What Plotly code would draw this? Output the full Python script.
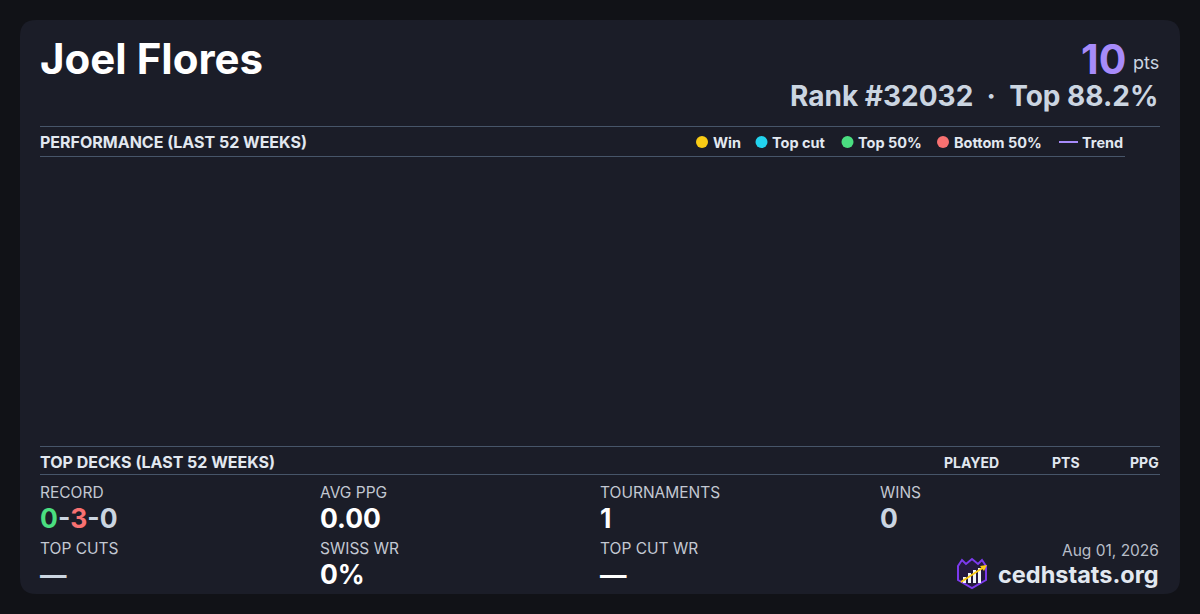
import plotly.graph_objects as go

W, H = 1200, 614

# player header
player_name = "Joel Flores"
points = 10
rank = 32032
top_pct = 88.2

# performance chart (no events in the last 52 weeks)
perf_weeks = []
perf_points = []
perf_result = []
trend_weeks = []
trend_values = []

legend_names = ["Win", "Top cut", "Top 50%", "Bottom 50%"]
legend_colors = ["#facc15", "#22d3ee", "#4ade80", "#f87171"]
trend_color = "#a78bfa"

deck_columns = ["PLAYED", "PTS", "PPG"]

# summary stats
record = [0, 3, 0]
stat_labels = ["RECORD", "AVG PPG", "TOURNAMENTS", "WINS", "TOP CUTS", "SWISS WR", "TOP CUT WR"]
stat_values = ["0-3-0", "0.00", "1", "0", "—", "0%", "—"]
date_str = "Aug 01, 2026"
site = "cedhstats.org"

FONT = "Inter, Roboto, sans-serif"
BG = "#111217"
CARD = "#1b1d28"
RULE = "#475569"


def X(p):
    return p / W


def Y(p):
    return 1 - p / H


def txt(x, y, s, size, color, anchor="left", weight=400, h=None):
    return dict(x=X(x), y=Y(y), xref="paper", yref="paper", text=s, showarrow=False,
                xanchor=anchor, yanchor="middle", borderpad=0, height=h,
                font=dict(family=FONT, size=size, color=color, weight=weight))


fig = go.Figure()

color_map = dict(zip(legend_names, legend_colors))
for name in legend_names:
    xs = [w for w, r in zip(perf_weeks, perf_result) if r == name]
    ys = [p for p, r in zip(perf_points, perf_result) if r == name]
    fig.add_trace(go.Scatter(x=xs, y=ys, mode="markers", name=name, showlegend=False,
                             marker=dict(color=color_map[name], size=10, symbol="circle")))
fig.add_trace(go.Scatter(x=trend_weeks, y=trend_values, mode="lines", name="Trend",
                         showlegend=False, line=dict(color=trend_color, width=2)))

shapes = []

# card with rounded corners
x0, x1, y0, y1, r = 20, 1180, 20, 594, 16
card_path = (f"M {X(x0 + r)},{Y(y0)} L {X(x1 - r)},{Y(y0)} Q {X(x1)},{Y(y0)} {X(x1)},{Y(y0 + r)} "
             f"L {X(x1)},{Y(y1 - r)} Q {X(x1)},{Y(y1)} {X(x1 - r)},{Y(y1)} "
             f"L {X(x0 + r)},{Y(y1)} Q {X(x0)},{Y(y1)} {X(x0)},{Y(y1 - r)} "
             f"L {X(x0)},{Y(y0 + r)} Q {X(x0)},{Y(y0)} {X(x0 + r)},{Y(y0)} Z")
shapes.append(dict(type="path", path=card_path, xref="paper", yref="paper",
                   fillcolor=CARD, line=dict(width=0), layer="below"))

# section rules
for (a, b, yy) in [(40, 1160, 126.5), (40, 1125, 156.5), (40, 1160, 446.5), (40, 1160, 474.5)]:
    shapes.append(dict(type="line", xref="paper", yref="paper", x0=X(a), x1=X(b), y0=Y(yy), y1=Y(yy),
                       line=dict(color=RULE, width=1)))

ann = []
ann.append(txt(38.5, 58, player_name, 42, "#ffffff", weight=700))
ann.append(txt(1127, 58.5, str(points), 41, trend_color, anchor="right", weight=700, h=38))
ann.append(txt(1160, 62, "pts", 18, "#cbd5e1", anchor="right"))
ann.append(txt(1159, 96, f"Rank #{rank}  ·  Top {top_pct}%", 28, "#cbd5e1", anchor="right",
               weight=700, h=34))

ann.append(txt(39, 142, "PERFORMANCE (LAST 52 WEEKS)", 16, "#e2e8f0", weight=700))

# legend
dot_x = [702, 761.5, 847.5, 943]
for cx, name, col in zip(dot_x, legend_names, legend_colors):
    shapes.append(dict(type="circle", xref="paper", yref="paper", x0=X(cx - 6), x1=X(cx + 6),
                       y0=Y(148), y1=Y(136), fillcolor=col, line=dict(width=0)))
    ann.append(txt(cx + 9.5, 142, name, 14.5, "#e2e8f0", weight=700))
shapes.append(dict(type="line", xref="paper", yref="paper", x0=X(1059), x1=X(1078), y0=Y(142), y1=Y(142),
                   line=dict(color=trend_color, width=2)))
ann.append(txt(1080.5, 142, "Trend", 14.5, "#e2e8f0", weight=700))

# top decks header
ann.append(txt(39, 462, "TOP DECKS (LAST 52 WEEKS)", 16, "#e2e8f0", weight=700))
for cx, name in zip([1000, 1081, 1160], deck_columns):
    ann.append(txt(cx, 462, name, 14, "#e2e8f0", anchor="right", weight=700))

# stats grid
col_x = [39, 319, 599, 879, 39, 319, 599]
label_y = [492, 492, 492, 492, 548, 548, 548]
value_y = [518, 518, 518, 518, 574, 574, 574]
value_colors = [None, "#ffffff", "#ffffff", "#cbd5e1", "#cbd5e1", "#ffffff", "#ffffff"]
for i, (lab, val) in enumerate(zip(stat_labels, stat_values)):
    ann.append(txt(col_x[i], label_y[i], lab, 15.5, "#c3c8d2"))
    if i == 0:
        w, l, d = record
        val = (f"<span style='color:#4ade80'>{w}</span>-<span style='color:#f87171'>{l}</span>-"
               f"<span style='color:#cbd5e1'>{d}</span>")
        ann.append(txt(col_x[i], value_y[i], val, 26.5, "#cbd5e1", weight=700))
    else:
        ann.append(txt(col_x[i], value_y[i], val, 26.5, value_colors[i], weight=700))

ann.append(txt(1160, 550, date_str, 15.5, "#b8bdc8", anchor="right"))
ann.append(txt(1160, 574.5, site, 23.5, "#e2e8f0", anchor="right", weight=700))

# logo
shield = [(958, 566), (962, 560), (966, 564), (972, 559), (978, 564), (982, 560), (986, 566),
          (986, 580), (972, 588), (958, 580)]
shield_path = "M " + " L ".join(f"{X(a)},{Y(b)}" for a, b in shield) + " Z"
shapes.append(dict(type="path", path=shield_path, xref="paper", yref="paper",
                   fillcolor="#241a3d", line=dict(color="#7c3aed", width=2)))
for (a, b, top) in [(963, 966, 577), (968, 971, 573), (973, 976, 570), (978, 981, 568)]:
    shapes.append(dict(type="rect", xref="paper", yref="paper", x0=X(a), x1=X(b), y0=Y(583), y1=Y(top),
                       fillcolor="#f1f5f9", line=dict(width=0)))
shapes.append(dict(type="line", xref="paper", yref="paper", x0=X(961), y0=Y(582), x1=X(984), y1=Y(567),
                   line=dict(color="#facc15", width=2)))
shapes.append(dict(type="path", path=f"M {X(987)},{Y(565)} L {X(980)},{Y(566)} L {X(984)},{Y(571)} Z",
                   xref="paper", yref="paper", fillcolor="#facc15", line=dict(width=0)))

fig.update_layout(
    width=W, height=H,
    margin=dict(l=0, r=0, t=0, b=0),
    paper_bgcolor=BG, plot_bgcolor=CARD,
    showlegend=False,
    shapes=shapes,
    annotations=ann,
    xaxis=dict(domain=[X(40), X(1160)], visible=False, range=[0, 52]),
    yaxis=dict(domain=[Y(446), Y(157)], visible=False, range=[0, 10]),
)

fig.write_html("out.html", config=dict(displayModeBar=False),
               post_script="document.body.style.margin='0';document.body.style.background='#111217';")
